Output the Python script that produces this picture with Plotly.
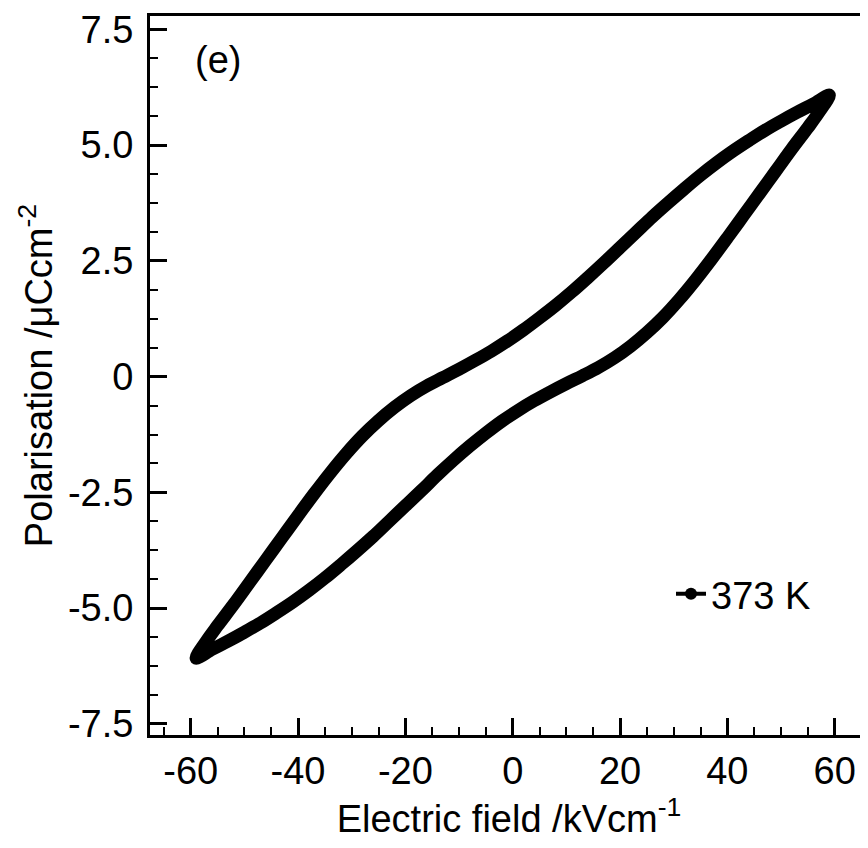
import plotly.graph_objects as go

# Upper branch (field decreasing from +Emax to -Emax), kV/cm and uC/cm^2
upper_field = [59, 56, 53, 50, 47, 44, 41, 38, 35, 32, 29, 26, 23, 20, 17, 14, 11, 8, 5, 2,
               -1, -4, -7, -10, -13, -16, -19, -22, -25, -28, -31, -34, -37, -40, -43, -46,
               -49, -52, -55, -57, -59]
upper_pol = [6.08, 5.89, 5.71, 5.52, 5.32, 5.10, 4.87, 4.62, 4.35, 4.06, 3.76, 3.45, 3.12,
             2.79, 2.46, 2.14, 1.83, 1.54, 1.27, 1.01, 0.77, 0.55, 0.35, 0.16, -0.02, -0.20,
             -0.41, -0.66, -0.95, -1.28, -1.66, -2.08, -2.53, -3.00, -3.48, -3.96, -4.44,
             -4.92, -5.38, -5.70, -6.08]
# Lower branch (field increasing from -Emax to +Emax)
lower_field = [-59, -56, -53, -50, -47, -44, -41, -38, -35, -32, -29, -26, -23, -20, -17, -14,
               -11, -8, -5, -2, 1, 4, 7, 10, 13, 16, 19, 22, 25, 28, 31, 34, 37, 40, 43, 46,
               49, 52, 55, 57, 59]
lower_pol = [-6.08, -5.89, -5.71, -5.52, -5.32, -5.10, -4.87, -4.62, -4.35, -4.06, -3.76,
             -3.45, -3.12, -2.79, -2.46, -2.12, -1.80, -1.50, -1.22, -0.96, -0.73, -0.52,
             -0.33, -0.15, 0.02, 0.20, 0.41, 0.66, 0.95, 1.28, 1.66, 2.08, 2.53, 3.00, 3.48,
             3.96, 4.44, 4.92, 5.38, 5.70, 6.08]

series_name = "373 K"
panel_label = "(e)"

x_tickvals = [-60, -40, -20, 0, 20, 40, 60]
x_ticktext = ["-60", "-40", "-20", "0", "20", "40", "60"]
y_tickvals = [-7.5, -5.0, -2.5, 0, 2.5, 5.0, 7.5]
y_ticktext = ["-7.5", "-5.0", "-2.5", "0", "2.5", "5.0", "7.5"]

FONT = "Liberation Sans, Arial, Helvetica, sans-serif"
FS = 38

# page body has an 8px margin; figure is sized so the plot lands where the reference's does
W, H = 860, 840
ML, MR, MT, MB = 142, 0, 8, 113
PW, PH = W - ML - MR, H - MT - MB

loop_x = upper_field + lower_field[1:]
loop_y = upper_pol + lower_pol[1:]

fig = go.Figure()
fig.add_trace(go.Scatter(
    x=loop_x, y=loop_y, mode="lines",
    line=dict(color="black", width=13, shape="spline", smoothing=1.0),
    showlegend=False, hoverinfo="skip"))
fig.add_trace(go.Scatter(
    x=[None], y=[None], mode="lines+markers", name=series_name,
    line=dict(color="black", width=4),
    marker=dict(color="black", size=12, symbol="circle"),
    showlegend=True))

axis_common = dict(
    showline=True, linecolor="black", linewidth=3, mirror=True,
    ticks="inside", ticklen=17, tickwidth=3, tickcolor="black",
    showgrid=False, zeroline=False,
    tickfont=dict(family=FONT, size=FS, color="black"),
)

fig.update_layout(
    width=W, height=H,
    margin=dict(l=ML, r=MR, t=MT, b=MB, autoexpand=False),
    paper_bgcolor="white", plot_bgcolor="white",
    font=dict(family=FONT, size=FS, color="black"),
    xaxis=dict(
        range=[-67.58, 66.2], tickmode="array", tickvals=x_tickvals, ticktext=x_ticktext,
        minor=dict(dtick=5, tick0=0, ticks="inside", ticklen=8, tickwidth=2, tickcolor="black"),
        title=dict(text="Electric field /kVcm<sup>-1</sup>", font=dict(family=FONT, size=FS),
                   standoff=6),
        ticklabelstandoff=0,
        **axis_common),
    yaxis=dict(
        range=[-7.74, 7.79], tickmode="array", tickvals=y_tickvals, ticktext=y_ticktext,
        minor=dict(dtick=0.625, tick0=0, ticks="inside", ticklen=8, tickwidth=2, tickcolor="black"),
        title=dict(text="Polarisation /μCcm<sup>-2</sup>", font=dict(family=FONT, size=FS),
                   standoff=4),
        ticklabelstandoff=6,
        **axis_common),
    legend=dict(x=(671 - 8 - ML) / PW, y=(727 - 586) / PH, xanchor="left", yanchor="middle",
                bgcolor="rgba(0,0,0,0)", font=dict(family=FONT, size=FS),
                itemwidth=30),
    annotations=[dict(text=panel_label, x=(218 - 8 - ML) / PW, y=(727 - 52) / PH,
                      xref="paper", yref="paper", xanchor="center", yanchor="middle",
                      showarrow=False, font=dict(family=FONT, size=FS))],
)

fig.write_html("out.html")
